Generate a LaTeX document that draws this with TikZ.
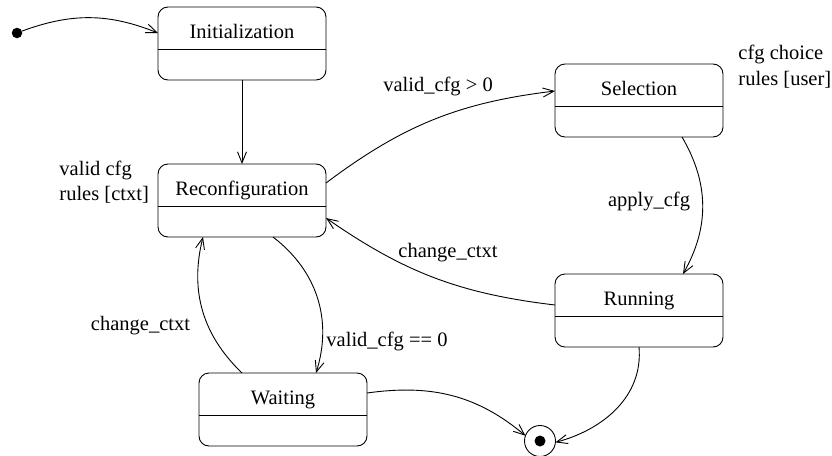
\documentclass[tikz,border=0pt]{standalone}
\usepackage{fontspec}
\setmainfont{Liberation Serif}
\usetikzlibrary{arrows.meta}

% state box: rounded rectangle, divider line, name in the upper compartment
\newcommand\mkstate[3]{%
  \node[state] (#1) at (#2) {};
  \draw ([yshift=-42pt]#1.north west) -- ([yshift=-42pt]#1.north east);
  \node[lbl] (#1-name) at ([yshift=-31pt]#1.north) {#3};
}

\begin{document}
\begin{tikzpicture}[x=1pt,y=1pt, line width=0.9pt,
  >={Straight Barb[length=11pt,width=9pt]},
  every node/.style={font=\fontsize{20.5}{25}\selectfont},
  state/.style={draw, rounded corners=10pt, minimum width=168pt,
    minimum height=73pt, inner sep=0pt, outer sep=0pt},
  lbl/.style={inner sep=0pt, anchor=base},
  note/.style={inner sep=0pt, anchor=base west},
  dot/.style={circle, fill, inner sep=0pt, outer sep=0pt}]

\useasboundingbox (0,0) rectangle (832,-455);

% states
\mkstate{init}{242,-43.5}{Initialization}
\mkstate{reconf}{242,-200.5}{Reconfiguration}
\mkstate{sel}{639,-100.5}{Selection}
\mkstate{run}{639,-310.5}{Running}
\mkstate{wait}{283,-409.5}{Waiting}

% pseudo-states
\node[dot, minimum size=10.5pt] (start) at (17,-33) {};
\node[circle, draw, minimum size=31pt, inner sep=0pt, outer sep=0pt] (fin) at (540,-441) {};
\node[dot, minimum size=11pt] (fin-dot) at (fin.center) {};

% notes
\node[note] (n1a) at (59,-175) {valid cfg};
\node[note] (n1b) at (59,-200.5) {rules [ctxt]};
\node[note] (n2a) at (738,-59) {cfg choice};
\node[note] (n2b) at (738,-85) {rules [user]};

% transitions
\draw[->] (start) to[bend left=21] ([yshift=10.5pt]init.west);
\draw[->] (init.south) -- (reconf.north);
\draw[->] ([yshift=17.5pt]reconf.east) to[bend left=15] ([yshift=9.5pt]sel.west);
\draw[->] ([xshift=43pt]sel.south) to[bend left=30] ([xshift=44pt]run.north);
\draw[->] ([yshift=5.5pt]run.west) to[bend left=14] ([yshift=-17.5pt]reconf.east);
\draw[->] ([xshift=31pt]reconf.south) to[bend left=35] ([xshift=33pt]wait.north);
\draw[->] ([xshift=-41pt]wait.north) to[bend left=30] ([xshift=-39pt]reconf.south);
\draw[->] ([yshift=16.5pt]wait.east) to[out=8,in=140] (fin.160);
\draw[->] (run.south) to[out=-85,in=15] (fin.-5);

% transition labels
\node[lbl] (l1) at (438,-91) {valid\_cfg > 0};
\node[lbl] (l2) at (649,-206.5) {apply\_cfg};
\node[lbl] (l3) at (448,-257.5) {change\_ctxt};
\node[lbl] (l4) at (387,-346.5) {valid\_cfg == 0};
\node[lbl] (l5) at (140.5,-330.5) {change\_ctxt};
\end{tikzpicture}
\end{document}
